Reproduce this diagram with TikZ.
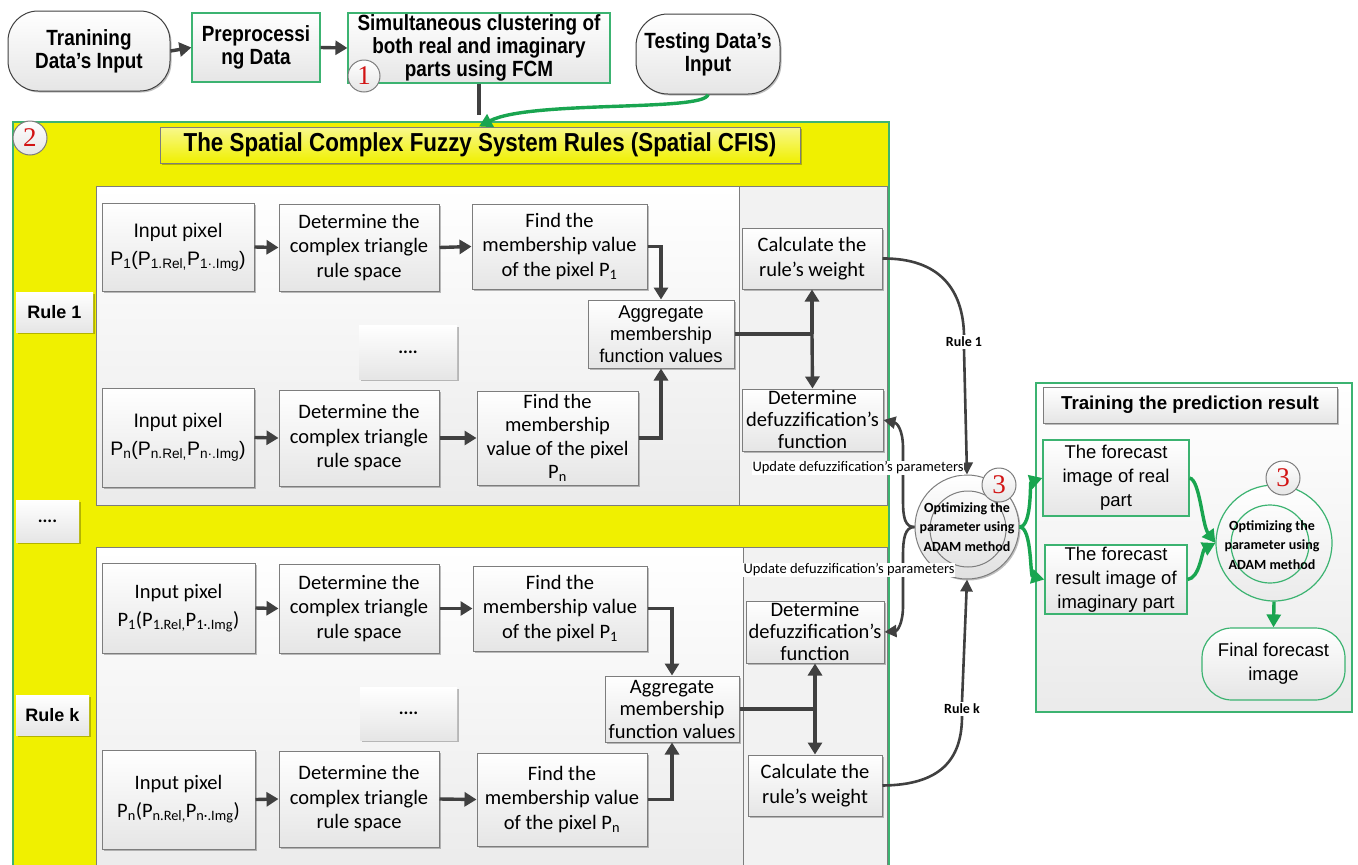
\documentclass[tikz,border=0pt]{standalone}
\usepackage{fontspec}
\setmainfont{Liberation Sans}
\newfontfamily\calfont{Carlito}
\newfontfamily\narrowfont[FakeStretch=0.86]{Liberation Sans}
\newfontfamily\numfont{Liberation Serif}
\usetikzlibrary{arrows.meta,shadows,calc}
\definecolor{yel}{RGB}{240,240,0}
\definecolor{grn}{RGB}{60,179,113}
\definecolor{agrn}{RGB}{25,165,80}
\definecolor{dgray}{RGB}{64,64,64}
\definecolor{bgray}{RGB}{125,125,125}
\definecolor{numred}{RGB}{210,20,20}
\tikzset{
  sz/.style 2 args={minimum width=#1pt, minimum height=#2pt},
  shad/.style={drop shadow={shadow xshift=1.5pt,shadow yshift=-1.5pt,opacity=0.25,fill=black}},
  pbox/.style={draw=bgray, line width=1pt, top color=white, bottom color=black!10, inner sep=0pt, align=center, shad},
  gbox/.style={draw=grn, line width=1.2pt, top color=white, bottom color=black!10, inner sep=0pt, align=center},
  cal/.style={font=\calfont\fontsize{20.5}{24.5}\selectfont},
  ari/.style={font=\fontsize{18.5}{23}\selectfont},
  nar/.style={font=\narrowfont\bfseries\fontsize{22}{23}\selectfont},
  panelL/.style={draw=bgray, line width=1pt, top color=white, bottom color=black!8, inner sep=0pt},
  panelR/.style={draw=bgray, line width=1pt, fill=black!5, inner sep=0pt},
  tagbox/.style={top color=white, bottom color=black!10, inner sep=0pt, align=center, shad, font=\bfseries\fontsize{18}{20}\selectfont},
  numc/.style={circle, draw=bgray, line width=1pt, top color=white, bottom color=black!10, minimum size=34pt, inner sep=0pt, font=\numfont\fontsize{27}{27}\selectfont, text=numred},
  darrow/.style={draw=dgray, line width=3.4pt, -{Triangle[length=12pt,width=14pt]}},
  dline/.style={draw=dgray, line width=3.4pt},
  carrow/.style={draw=dgray, line width=2.6pt, -{Triangle[length=12pt,width=12pt]}},
  garrow/.style={draw=agrn, line width=3.4pt, -{Triangle[length=13pt,width=14pt]}},
  optxt/.style={font=\calfont\bfseries\fontsize{14}{19.5}\selectfont, align=center},
  updlab/.style={fill=white, inner sep=1pt, font=\calfont\fontsize{14.5}{16}\selectfont},
}
\begin{document}
\begin{tikzpicture}[x=1pt,y=-1pt]
\useasboundingbox (0,0) rectangle (1358,865);
\clip (0,0) rectangle (1358,865);
\fill[white] (0,0) rectangle (1358,865);

% ---------- top row ----------
\node[pbox, nar, draw=dgray, rounded corners=30pt, sz={162}{80}] (tr) at (89,51) {Tranining\\Data’s Input};
\node[gbox, nar, sz={128}{69}] (pre) at (256,47.5) {Preprocessi\\ng Data};
\node[gbox, nar, sz={262}{70}] (sim) at (479,48) {Simultaneous clustering of\\both real and imaginary\\parts using FCM};
\node[pbox, nar, draw=dgray, rounded corners=32pt, sz={144}{80}] (test) at (708,54) {Testing Data’s\\Input};
\node[numc, minimum size=32pt] (c1) at (364,76) {1};

% ---------- yellow area ----------
\path[fill=yel, draw=grn, line width=1.4pt] (13,122) rectangle (889,885);
\node[draw=bgray, line width=1pt, top color=yel!45!white, bottom color=yel, shad, sz={640}{36}, inner sep=0pt, font=\narrowfont\bfseries\fontsize{26}{28}\selectfont] (title) at (480,145) {The Spatial Complex Fuzzy System Rules (Spatial CFIS)};
\node[numc] (c2) at (30,138) {2};

\node[tagbox, sz={77}{40}] (rule1) at (54.5,312) {Rule 1};
\node[tagbox, sz={63}{42}, font=\calfont\bfseries\fontsize{18}{20}\selectfont] (rdots) at (47.5,521) {....};
\node[tagbox, sz={73}{40}] (rulek) at (52.5,715) {Rule k};

% ---------- rule 1 panel ----------
\node[panelL, sz={643}{319}] (p1l) at (417.5,345.5) {};
\node[panelR, sz={148}{319}] (p1r) at (813,345.5) {};

\node[pbox, sz={152}{88}, font=\fontsize{19.5}{28}\selectfont] (a1) at (178,247) {Input pixel\\P\textsubscript{1}(P\textsubscript{1.Rel,}P\textsubscript{1·.Img})};
\node[pbox, cal, sz={160}{87}] (b1) at (359,247.5) {Determine the\\complex triangle\\rule space};
\node[pbox, cal, sz={175}{85}] (f1) at (559.5,246.5) {Find the\\membership value\\of the pixel P\textsubscript{1}};
\node[pbox, draw=none, sz={98}{54}, font=\calfont\bfseries\fontsize{18}{20}\selectfont] (d1) at (408,352) {....};
\node[pbox, sz={152}{99}, font=\fontsize{19.5}{28}\selectfont] (an) at (178,437.5) {Input pixel\\P\textsubscript{n}(P\textsubscript{n.Rel,}P\textsubscript{n·.Img})};
\node[pbox, cal, sz={160}{96}] (bn) at (359,438) {Determine the\\complex triangle\\rule space};
\node[pbox, sz={161}{94}, font=\calfont\fontsize{20.5}{23.5}\selectfont] (fn) at (557.5,438) {Find the\\membership\\value of the pixel\\P\textsubscript{n}};
\node[pbox, sz={146}{68}, font=\fontsize{18.5}{22}\selectfont] (ag) at (661,334) {Aggregate\\membership\\function values};
\node[pbox, cal, sz={140}{61}] (cw) at (812,258.5) {Calculate the\\rule’s weight};
\node[pbox, sz={141}{62}, font=\calfont\fontsize{20.5}{22}\selectfont] (df) at (812.5,420) {Determine\\defuzzification’s\\function};

% ---------- rule k panel ----------
\node[panelL, sz={647}{333}] (pkl) at (419.5,713.5) {};
\node[panelR, sz={144}{333}] (pkr) at (815,713.5) {};

\node[pbox, sz={153}{90}, font=\calfont\fontsize{20.5}{28}\selectfont] (ka1) at (178.5,608) {Input pixel\\P\textsubscript{1}(P\textsubscript{1.Rel,}P\textsubscript{1·.Img})};
\node[pbox, cal, sz={160}{89}] (kb1) at (359,608.5) {Determine the\\complex triangle\\rule space};
\node[pbox, cal, sz={174}{85}] (kf1) at (560,608.5) {Find the\\membership value\\of the pixel P\textsubscript{1}};
\node[pbox, draw=none, sz={97}{53}, font=\calfont\bfseries\fontsize{18}{20}\selectfont] (kd) at (408.5,713.5) {....};
\node[pbox, sz={153}{99}, font=\calfont\fontsize{20.5}{28}\selectfont] (kan) at (178.5,799.5) {Input pixel\\P\textsubscript{n}(P\textsubscript{n.Rel,}P\textsubscript{n·.Img})};
\node[pbox, cal, sz={160}{96}] (kbn) at (359,799) {Determine the\\complex triangle\\rule space};
\node[pbox, cal, sz={170}{93}] (kfn) at (562,799.5) {Find the\\membership value\\of the pixel P\textsubscript{n}};
\node[pbox, sz={134}{66}, font=\calfont\fontsize{20.5}{22.5}\selectfont] (kag) at (672,709) {Aggregate\\membership\\function values};
\node[pbox, sz={138}{62}, font=\calfont\fontsize{20.5}{22}\selectfont] (kdf) at (815,632) {Determine\\defuzzification’s\\function};
\node[pbox, cal, sz={134}{61}] (kcw) at (815,785.5) {Calculate the\\rule’s weight};

% ---------- central optimiser ----------
\node[circle, draw=bgray, line width=1pt, top color=white, bottom color=black!12, minimum size=104pt, inner sep=0pt, shad] (opt) at (967,527) {};
\node[circle, draw=bgray, line width=1pt, minimum size=76pt, inner sep=0pt] (opti) at (968,529) {};
\node[optxt] (optt) at (967,527) {Optimizing the\\parameter using\\ADAM method};
\node[numc] (c3a) at (999,485) {3};

\node[font=\calfont\bfseries\fontsize{14}{16}\selectfont, inner sep=2pt] (r1lab) at (964,342) {Rule 1};
\node[font=\calfont\bfseries\fontsize{14}{16}\selectfont, inner sep=2pt] (rklab) at (962,709) {Rule k};

% ---------- right panel ----------
\node[draw=grn, line width=1.2pt, top color=white, bottom color=black!8, sz={316}{329}, inner sep=0pt] (rp) at (1194,547.5) {};
\node[pbox, sz={294}{36}, font=\bfseries\fontsize{18.7}{20}\selectfont] (tp) at (1190,405) {Training the prediction result};
\node[gbox, sz={146}{76}, font=\fontsize{18.5}{24}\selectfont] (fr) at (1116,478) {The forecast\\image of real\\part};
\node[gbox, sz={142}{69}, font=\fontsize{18.5}{24}\selectfont] (fi) at (1116,579.5) {The forecast\\result image of\\imaginary part};
\node[circle, draw=grn, line width=1.2pt, top color=white, bottom color=black!8, minimum size=116pt, inner sep=0pt] (opt2) at (1274,543) {};
\node[circle, draw=grn, line width=1.2pt, minimum size=78pt, inner sep=0pt] (opt2i) at (1270,544) {};
\node[optxt] (opt2t) at (1272,545) {Optimizing the\\parameter using\\ADAM method};
\node[numc] (c3b) at (1283,478) {3};
\node[gbox, rounded corners=30pt, sz={143}{72}, font=\fontsize{18.5}{24}\selectfont] (fin) at (1273.5,664) {Final forecast\\image};

% ---------- connectors: top ----------
\draw[darrow] (tr.east) -- (pre.west);
\draw[darrow] (pre.east) -- (sim.west);
\draw[dline] (sim.south) -- ($(sim.south |- title.north)+(0,-12)$);
\draw[garrow] (test.south) .. controls (705,112) and (530,100) .. (sim.south |- title.north);

% ---------- connectors: rule 1 ----------
\draw[darrow] (a1.east) -- (b1.west);
\draw[darrow] (b1.east) -- (f1.west);
\draw[darrow] (an.east) -- (bn.west);
\draw[darrow] (bn.east) -- (fn.west);
\draw[darrow] (f1.east) -| (ag.north);
\draw[darrow] (fn.east) -| (ag.south);
\coordinate (j1) at (ag.east -| cw.south);
\draw[dline] (ag.east) -- (j1);
\draw[darrow] (j1) -- (cw.south);
\draw[darrow] (j1) -- (df.north);

% ---------- connectors: rule k ----------
\draw[darrow] (ka1.east) -- (kb1.west);
\draw[darrow] (kb1.east) -- (kf1.west);
\draw[darrow] (kan.east) -- (kbn.west);
\draw[darrow] (kbn.east) -- (kfn.west);
\draw[darrow] (kf1.east) -| (kag.north);
\draw[darrow] (kfn.east) -| (kag.south);
\coordinate (jk) at (kag.east -| kdf.south);
\draw[dline] (kag.east) -- (jk);
\draw[darrow] (jk) -- (kdf.south);
\draw[darrow] (jk) -- (kcw.north);

% ---------- connectors: to / from optimiser ----------
\draw[dgray, line width=2.6pt] (cw.east) .. controls (940,258) and (963,290) .. (r1lab.north);
\draw[carrow] (r1lab.south) -- (opt.north);
\draw[dgray, line width=2.6pt] (kcw.east) .. controls (940,785) and (962,760) .. (rklab.south);
\draw[carrow] (rklab.north) -- (opt.south);
\draw[carrow] (opt.west) .. controls (905,527) and (903,518) .. (903,500) -- (903,448) .. controls (903,430) and (897,423) .. (df.east);
\draw[carrow] (opt.west) .. controls (905,527) and (903,538) .. (903,556) -- (903,606) .. controls (903,624) and (897,631) .. (kdf.east);
\node[updlab] (up1) at (858,468) {Update defuzzification’s parameters};
\node[updlab] (up2) at (849,570) {Update defuzzification’s parameters};

\draw[garrow] (opt.east) .. controls (1032,527) and (1030,482) .. (fr.west);
\draw[garrow] (opt.east) .. controls (1032,527) and (1030,576) .. (fi.west);
\draw[garrow] (fr.east) .. controls (1200,480) and (1202,525) .. (opt2.west);
\draw[garrow] (fi.east) .. controls (1200,578) and (1202,550) .. (opt2.west);
\draw[garrow] (opt2.south) -- (fin.north);
\end{tikzpicture}
\end{document}
